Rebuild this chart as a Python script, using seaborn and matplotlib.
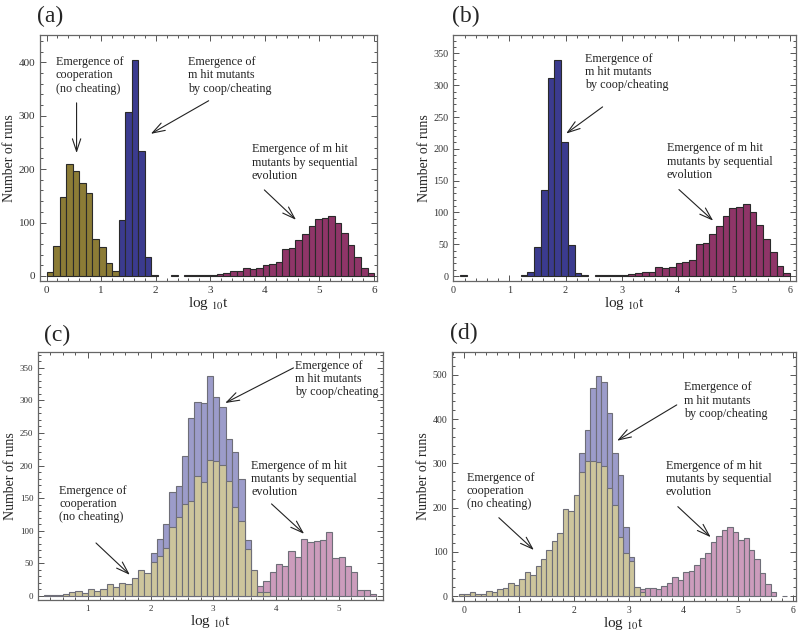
import numpy as np
import pandas as pd
import matplotlib
matplotlib.use('Agg')
import matplotlib.pyplot as plt
from matplotlib.ticker import MultipleLocator
import seaborn as sns

sns.set_style('ticks')
plt.rcParams['font.family'] = ['Liberation Serif', 'DejaVu Serif']
plt.rcParams['mathtext.fontset'] = 'stix'

# Panel (a): bin width 0.12
a_width = 0.12
a_coop_start = 0.0
a_coop = [7, 56, 148, 209, 196, 174, 155, 69, 54, 24, 10]
a_cheat_start = 1.32
a_cheat = [104, 306, 405, 234, 36, 2]
a_seq_start = 2.28
a_seq = [1, 0, 1, 1, 1, 1, 1, 3, 5, 9, 9, 14, 13, 15, 20, 23, 26, 51, 52, 67,
         79, 94, 107, 108, 112, 99, 81, 57, 35, 15, 5]

# Panel (b): bin width 0.12
b_width = 0.12
b_cheat_start = 0.12
b_cheat = [1, 0, 0, 0, 0, 0, 0, 0, 0, 1, 7, 45, 136, 311, 340, 211, 49, 4, 1]
b_seq_start = 2.52
b_seq = [1, 1, 1, 1, 1, 3, 4, 7, 7, 14, 12, 14, 20, 22, 25, 50, 52, 66, 79,
         94, 107, 109, 113, 100, 81, 58, 37, 15, 5]

# Panel (c): bin width 0.1
c_width = 0.1
c_coop_start = 0.3
c_coop = [1, 1, 1, 2, 6, 7, 4, 10, 7, 10, 18, 13, 20, 18, 27, 40, 35,
          51, 61, 73, 106, 121, 141, 145, 184, 174, 208, 207, 201, 176, 137,
          115, 71, 40, 5, 5]
c_cheat_start = 2.0
c_cheat = [65, 87, 110, 160, 168, 214, 273, 297, 296, 338, 306, 290, 241, 221,
           180, 86]
c_seq_start = 3.7
c_seq = [15, 22, 37, 48, 46, 68, 60, 87, 82, 84, 85, 98, 58, 60, 46, 36, 8, 9, 2]

# Panel (d): bin width 0.1
d_width = 0.1
d_coop_start = -0.1
d_coop = [4, 4, 8, 5, 4, 12, 10, 16, 18, 29, 25, 39, 55, 48, 67, 83, 103, 124,
          143, 197, 192, 228, 281, 305, 306, 304, 295, 244, 206, 133, 97, 78,
          21, 8]
d_cheat_start = 2.1
d_cheat = [323, 376, 471, 498, 483, 413, 324, 274, 157, 89]
d_seq_start = 3.2
d_seq = [15, 17, 19, 15, 22, 29, 43, 36, 55, 57, 69, 87, 97, 121, 136, 149, 155,
         144, 127, 130, 105, 83, 51, 28, 8, 0, 1]

# colours
dark_coop, dark_cheat, dark_seq = '#8c7c36', '#3b3b8f', '#8f3568'
light_coop, light_cheat, light_seq = '#cdc59c', '#9c9cca', '#cc9cbc'

t_coop = 'Emergence of\ncooperation\n(no cheating)'
t_cheat = 'Emergence of\nm hit mutants\nby coop/cheating'
t_seq = 'Emergence of m hit\nmutants by sequential\nevolution'


def draw_hist(ax, start, width, counts, color, edge):
    counts = np.asarray(counts, dtype=float)
    edges = start + width * np.arange(len(counts) + 1)
    df = pd.DataFrame({'logt': edges[:-1] + width / 2, 'runs': counts})
    n0 = len(ax.patches)
    sns.histplot(data=df, x='logt', weights='runs', bins=list(edges),
                 color=color, edgecolor=edge, linewidth=0.8, alpha=1, ax=ax)
    for p in ax.patches[n0:]:
        if p.get_height() <= 0:
            p.set_visible(False)


def style_axes(ax, xlim, ylim, ymaj, ymin, tick_fs, xticks):
    ax.set_xlim(xlim)
    ax.set_ylim(ylim)
    ax.set_xticks(xticks)
    ax.xaxis.set_minor_locator(MultipleLocator(0.2))
    ax.yaxis.set_major_locator(MultipleLocator(ymaj))
    ax.yaxis.set_minor_locator(MultipleLocator(ymin))
    ax.tick_params(which='both', direction='in', top=True, right=True,
                   color='#555555', width=0.7, labelsize=tick_fs,
                   labelcolor='#333333')
    ax.tick_params(which='major', length=4.5)
    ax.tick_params(which='minor', length=2.5)
    for s in ax.spines.values():
        s.set_color('#666666')
        s.set_linewidth(0.9)
    ax.set_ylabel('Number of runs', fontsize=10, labelpad=2)
    ax.set_xlabel('log $_{10}$t', fontsize=11, labelpad=0)


def note(ax, text, xy, start, tip):
    ax.text(xy[0], xy[1], text, fontsize=8.7, va='top', ha='left',
            linespacing=1.12, color='#222222')
    ax.annotate('', xy=tip, xytext=start,
                arrowprops=dict(arrowstyle='->,head_length=0.75,head_width=0.25',
                                color='#222222', lw=0.8,
                                mutation_scale=12, shrinkA=0, shrinkB=0))


fig = plt.figure(figsize=(8, 6.37), dpi=100)
ax_a = fig.add_axes([0.050, 0.5593, 0.421, 0.3857])
ax_b = fig.add_axes([0.5666, 0.5593, 0.428, 0.3857])
ax_c = fig.add_axes([0.0479, 0.0581, 0.431, 0.3889])
ax_d = fig.add_axes([0.5654, 0.0570, 0.429, 0.3900])

# (a)
draw_hist(ax_a, a_coop_start, a_width, a_coop, dark_coop, '#2a2a2a')
draw_hist(ax_a, a_cheat_start, a_width, a_cheat, dark_cheat, '#2a2a2a')
draw_hist(ax_a, a_seq_start, a_width, a_seq, dark_seq, '#2a2a2a')
style_axes(ax_a, (-0.12, 6.05), (-9, 451), 100, 20, 8, range(0, 7))
note(ax_a, t_coop, (0.17, 411), (0.55, 324), (0.55, 230))
note(ax_a, t_cheat, (2.59, 411), (2.97, 328), (1.91, 266))
note(ax_a, t_seq, (3.76, 248), (3.99, 161), (4.57, 105))

# (b)
draw_hist(ax_b, b_cheat_start, b_width, b_cheat, dark_cheat, '#2a2a2a')
draw_hist(ax_b, b_seq_start, b_width, b_seq, dark_seq, '#2a2a2a')
style_axes(ax_b, (0.0, 6.1), (-7.4, 379), 50, 10, 7.3, range(0, 7))
note(ax_b, t_cheat, (2.34, 351), (2.66, 266), (2.01, 224))
note(ax_b, t_seq, (3.80, 210), (4.02, 136), (4.63, 87))

# (c)
draw_hist(ax_c, c_cheat_start, c_width, c_cheat, light_cheat, '#6e6e78')
draw_hist(ax_c, c_seq_start, c_width, c_seq, light_seq, '#6e6e78')
draw_hist(ax_c, c_coop_start, c_width, c_coop, light_coop, '#6e6e78')
style_axes(ax_c, (0.21, 5.71), (-6.6, 374), 50, 10, 6.5, range(1, 6))
note(ax_c, t_coop, (0.54, 170), (1.13, 81), (1.67, 32))
note(ax_c, t_cheat, (4.30, 362), (4.28, 350), (3.19, 296))
note(ax_c, t_seq, (3.61, 209), (3.93, 141), (4.45, 95))

# (d)
draw_hist(ax_d, d_cheat_start, d_width, d_cheat, light_cheat, '#6e6e78')
draw_hist(ax_d, d_seq_start, d_width, d_seq, light_seq, '#6e6e78')
draw_hist(ax_d, d_coop_start, d_width, d_coop, light_coop, '#6e6e78')
style_axes(ax_d, (-0.22, 6.05), (-10.6, 551), 100, 20, 7, range(0, 7))
note(ax_d, t_coop, (0.04, 281), (0.63, 177), (1.27, 104))
note(ax_d, t_cheat, (4.01, 485), (3.88, 432), (2.79, 351))
note(ax_d, t_seq, (3.68, 308), (3.90, 202), (4.50, 133))

# panel letters
for lab, x, y in [('(a)', 0.046, 0.99), ('(b)', 0.565, 0.99),
                  ('(c)', 0.055, 0.49), ('(d)', 0.562, 0.493)]:
    fig.text(x, y, lab, fontsize=17, va='top', ha='left')

fig.savefig('out.png', dpi=100)
